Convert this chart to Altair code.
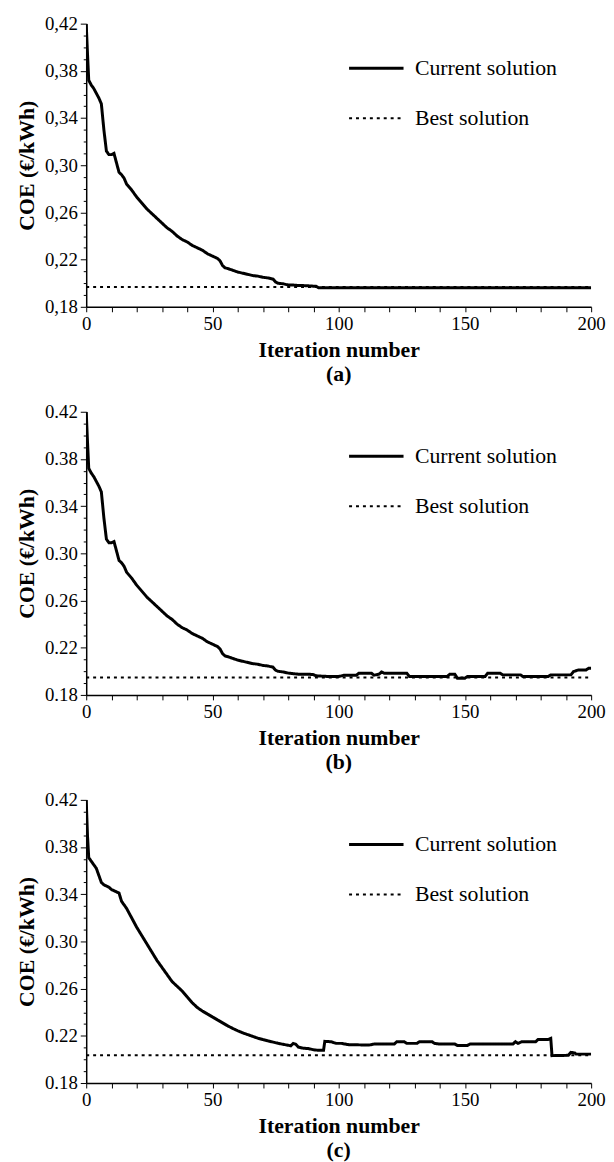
import altair as alt
import pandas as pd

FONT = "Liberation Serif"

# ---------------- data ----------------
iter_a = [0, 0.5, 1, 2, 3, 4, 5, 6, 7, 8, 9, 10, 11, 12, 13, 14, 15, 16, 18, 20,
          22, 24, 26, 28, 30, 32, 34, 36, 38, 40, 42, 44, 46, 48, 50, 52, 53, 54,
          55, 56, 58, 60, 62, 64, 66, 68, 70, 72, 73, 74, 75, 76, 78, 80, 82, 84,
          86, 88, 90, 91, 92, 200]
coe_a = [0.420, 0.395, 0.372, 0.368, 0.365, 0.361, 0.357, 0.352, 0.330, 0.312,
         0.309, 0.309, 0.310, 0.302, 0.294, 0.292, 0.289, 0.284, 0.279, 0.273,
         0.268, 0.263, 0.259, 0.255, 0.251, 0.247, 0.244, 0.240, 0.237, 0.235,
         0.232, 0.230, 0.228, 0.225, 0.223, 0.221, 0.219, 0.215, 0.213, 0.2125,
         0.211, 0.2095, 0.2085, 0.2075, 0.2065, 0.206, 0.205, 0.2045, 0.204,
         0.2035, 0.201, 0.200, 0.1995, 0.1985, 0.1985, 0.198, 0.198, 0.1978,
         0.1975, 0.1975, 0.1962, 0.1962]
best_a = 0.1967

iter_b = [0, 0.5, 1, 2, 3, 4, 5, 6, 7, 8, 9, 10, 11, 12, 13, 14, 15, 16, 18, 20,
          22, 24, 26, 28, 30, 32, 34, 36, 38, 40, 42, 44, 46, 48, 50, 52, 53, 54,
          55, 56, 58, 60, 62, 64, 66, 68, 70, 72, 73, 74, 75, 76, 78, 80, 82, 84,
          86, 88, 90, 91, 96, 100, 102, 107, 108, 113, 114, 116, 117, 118, 127,
          128, 143, 144, 146, 147, 150, 151, 158, 159, 164, 165, 172, 173, 183,
          184, 192, 193, 195, 198, 199, 200]
coe_b = [0.420, 0.395, 0.372, 0.368, 0.365, 0.361, 0.357, 0.352, 0.330, 0.312,
         0.309, 0.309, 0.310, 0.302, 0.294, 0.292, 0.289, 0.284, 0.279, 0.273,
         0.268, 0.263, 0.259, 0.255, 0.251, 0.247, 0.244, 0.240, 0.237, 0.235,
         0.232, 0.230, 0.228, 0.225, 0.223, 0.221, 0.219, 0.215, 0.213, 0.2125,
         0.211, 0.2095, 0.2085, 0.2075, 0.2065, 0.206, 0.205, 0.2045, 0.204,
         0.2035, 0.201, 0.200, 0.1995, 0.1985, 0.198, 0.1976, 0.1976, 0.1976,
         0.1972, 0.1962, 0.1956, 0.1956, 0.1967, 0.1967, 0.1984, 0.1984, 0.1967,
         0.1976, 0.1995, 0.1984, 0.1984, 0.1956, 0.1956, 0.1976, 0.1976, 0.1942,
         0.1942, 0.1956, 0.1956, 0.1984, 0.1984, 0.1970, 0.1970, 0.1956, 0.1956,
         0.1970, 0.1970, 0.1998, 0.2012, 0.2012, 0.2026, 0.2026]
best_b = 0.1948

iter_c = [0, 0.5, 1, 2, 3, 4, 5, 6, 7, 8, 9, 10, 11, 12, 13, 14, 15, 16, 18, 20,
          22, 24, 26, 28, 30, 32, 34, 36, 38, 40, 42, 44, 46, 48, 50, 52, 54, 56,
          58, 60, 62, 64, 66, 68, 70, 72, 74, 76, 78, 80, 81, 82, 83, 84, 86, 88,
          90, 92, 94, 94.5, 97, 99, 101, 104, 112, 114, 122, 123, 126, 127, 131,
          132, 137, 138, 140, 146, 147, 151, 152, 169, 170, 171, 172.5, 178, 179,
          183, 184, 184.5, 191, 192, 193.5, 194, 200]
coe_c = [0.420, 0.390, 0.371, 0.368, 0.365, 0.362, 0.356, 0.350, 0.348, 0.347,
         0.346, 0.344, 0.343, 0.342, 0.341, 0.334, 0.331, 0.328, 0.320, 0.312,
         0.305, 0.298, 0.291, 0.284, 0.278, 0.272, 0.266, 0.262, 0.258, 0.253,
         0.248, 0.244, 0.241, 0.2385, 0.236, 0.2335, 0.231, 0.2285, 0.2263,
         0.2243, 0.2225, 0.221, 0.2195, 0.218, 0.2168, 0.2157, 0.2147, 0.2137,
         0.2128, 0.2120, 0.2115, 0.2136, 0.2128, 0.2105, 0.2095, 0.2092, 0.2082,
         0.2077, 0.2077, 0.2153, 0.2150, 0.2136, 0.2136, 0.2125, 0.2122, 0.2130,
         0.2130, 0.2150, 0.2150, 0.2136, 0.2136, 0.2150, 0.2150, 0.2136, 0.2130,
         0.2130, 0.2119, 0.2119, 0.2130, 0.2130, 0.2150, 0.2136, 0.2150, 0.2150,
         0.2169, 0.2169, 0.2178, 0.2032, 0.2035, 0.2060, 0.2055, 0.2045, 0.2045]
best_c = 0.2035

series_names = ["Current solution", "Best solution"]
x_ticks = list(range(0, 201, 10))
y_ticks = [round(0.18 + 0.01 * i, 2) for i in range(25)]

# ---------------- chart ----------------
def panel(iters, coes, best, caption, comma):
    cur = pd.DataFrame({"iteration": iters, "coe": coes, "series": series_names[0]})
    bst = pd.DataFrame({"iteration": [0, 200], "coe": [best, best], "series": series_names[1]})
    df = pd.concat([cur, bst], ignore_index=True)

    fmt = "format(datum.value, '.2f')"
    if comma:
        fmt = "replace(format(datum.value, '.2f'), '.', ',')"
    major_y = "abs((datum.value - 0.18) / 0.04 - round((datum.value - 0.18) / 0.04)) < 0.001"

    legend = alt.Legend(
        title=None, orient="none", legendX=264, legendY=16,
        symbolType="stroke", symbolSize=3025, symbolStrokeColor="black",
        labelFont=FONT, labelFontSize=22, labelColor="black", labelOffset=10,
        rowPadding=11, labelLimit=400,
    )

    return alt.Chart(df).mark_line(clip=True).encode(
        x=alt.X("iteration:Q",
                scale=alt.Scale(domain=[0, 200], nice=False, zero=False),
                axis=alt.Axis(title="Iteration number", values=x_ticks,
                              labelExpr="datum.value % 50 == 0 ? format(datum.value, 'd') : ''",
                              tickSize=5, labelPadding=3, titlePadding=6)),
        y=alt.Y("coe:Q",
                scale=alt.Scale(domain=[0.18, 0.42], nice=False, zero=False),
                axis=alt.Axis(title="COE (€/kWh)", values=y_ticks,
                              labelExpr=f"({major_y}) ? {fmt} : ''",
                              tickSize={"condition": {"test": major_y, "value": 6}, "value": 3},
                              labelPadding=3, titlePadding=6)),
        color=alt.Color("series:N", sort=series_names,
                        scale=alt.Scale(domain=series_names, range=["black", "black"]),
                        legend=legend),
        strokeDash=alt.StrokeDash("series:N", sort=series_names,
                                  scale=alt.Scale(domain=series_names, range=[[1, 0], [3, 4]]),
                                  legend=legend),
        strokeWidth=alt.StrokeWidth("series:N", sort=series_names,
                                    scale=alt.Scale(domain=series_names, range=[3, 2]),
                                    legend=legend),
        order=alt.Order("iteration:Q"),
    ).properties(
        width=510, height=286,
        title=alt.TitleParams(caption, orient="bottom", anchor="middle", frame="group",
                              font=FONT, fontSize=22, fontWeight="bold", color="black",
                              offset=4),
    )


chart = alt.vconcat(
    panel(iter_a, coe_a, best_a, "(a)", True),
    panel(iter_b, coe_b, best_b, "(b)", False),
    panel(iter_c, coe_c, best_c, "(c)", False),
    spacing=18,
).resolve_scale(
    color="independent", strokeDash="independent", strokeWidth="independent"
).properties(
    padding={"left": 7, "top": 1, "right": 0, "bottom": 0}
).configure_view(
    stroke=None
).configure_axis(
    labelFont=FONT, labelFontSize=19, labelColor="black",
    titleFont=FONT, titleFontSize=22, titleFontWeight="bold", titleColor="black",
    domainColor="black", domainWidth=1.5, tickColor="black", tickWidth=1,
    grid=False, labelOverlap=False, labelBound=False, labelFlush=False,
)

chart.save("out.html", embed_options={"renderer": "svg", "actions": False})
